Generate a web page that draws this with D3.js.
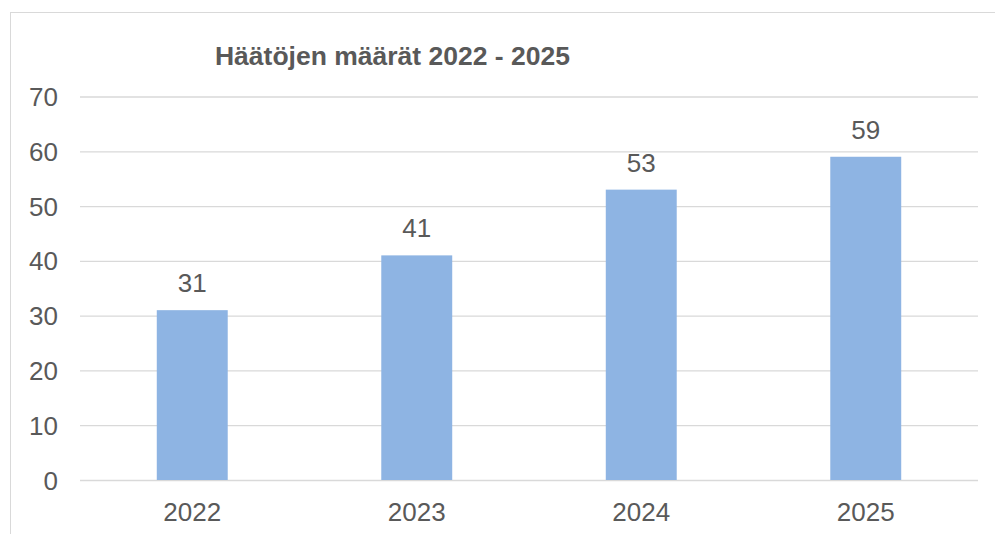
<!DOCTYPE html>
<html>
<head>
<meta charset="utf-8">
<script src="https://cdn.jsdelivr.net/npm/d3@7"></script>
<style>
  body { margin: 0; background: #fff; }
  text { font-family: "Liberation Sans", Arial, sans-serif; fill: #595959; }
</style>
</head>
<body>
<div id="chart"></div>
<script>
// chart data
let years = ["2022", "2023", "2024", "2025"];
let evictions = [31, 41, 53, 59];
let yTicks = [0, 10, 20, 30, 40, 50, 60, 70];
let title = "Häätöjen määrät 2022 - 2025";

let width = 995;
let height = 534;
let margin = { top: 96.5, right: 17, bottom: 54, left: 80 };

let svg = d3.select("#chart")
  .append("svg")
  .attr("width", width)
  .attr("height", height);

// outer chart border (runs off the picture on the right and bottom)
svg.append("rect")
  .attr("x", 10.5)
  .attr("y", 12.5)
  .attr("width", 1000)
  .attr("height", 600)
  .attr("fill", "none")
  .attr("stroke", "#d9d9d9")
  .attr("stroke-width", 1);

let x = d3.scaleBand()
  .domain(years)
  .range([margin.left, width - margin.right])
  .paddingInner(0.684)
  .paddingOuter(0.342);

let y = d3.scaleLinear()
  .domain([0, 70])
  .range([height - margin.bottom, margin.top]);

// gridlines + y labels
let yAxis = d3.axisLeft(y)
  .tickValues(yTicks)
  .tickSize(-(width - margin.right - margin.left))
  .tickPadding(22);

let gy = svg.append("g")
  .attr("transform", `translate(${margin.left},0)`)
  .call(yAxis);
gy.select(".domain").remove();
gy.selectAll(".tick line").attr("stroke", "#d9d9d9").attr("stroke-width", 1.3);
gy.selectAll(".tick text")
  .attr("font-size", 26)
  .attr("fill", "#595959")
  .attr("dy", "0.35em");

// bars
svg.selectAll("rect.bar")
  .data(evictions)
  .enter()
  .append("rect")
  .attr("class", "bar")
  .attr("x", (d, i) => x(years[i]))
  .attr("y", d => y(d))
  .attr("width", x.bandwidth())
  .attr("height", d => y(0) - y(d))
  .attr("fill", "#8eb4e3");

// value labels
svg.selectAll("text.val")
  .data(evictions)
  .enter()
  .append("text")
  .attr("class", "val")
  .attr("x", (d, i) => x(years[i]) + x.bandwidth() / 2)
  .attr("y", d => y(d) - 18)
  .attr("text-anchor", "middle")
  .attr("font-size", 26)
  .text(d => d);

// x axis labels
let xAxis = d3.axisBottom(x).tickSize(0).tickPadding(0);
let gx = svg.append("g")
  .attr("transform", `translate(0,${y(0)})`)
  .call(xAxis);
gx.select(".domain").remove();
gx.selectAll(".tick text")
  .attr("font-size", 26)
  .attr("fill", "#595959")
  .attr("dy", null)
  .attr("y", 41);

// title
svg.append("text")
  .attr("x", 392.5)
  .attr("y", 65)
  .attr("text-anchor", "middle")
  .attr("font-size", 26.5)
  .attr("font-weight", "bold")
  .text(title);
</script>
</body>
</html>
